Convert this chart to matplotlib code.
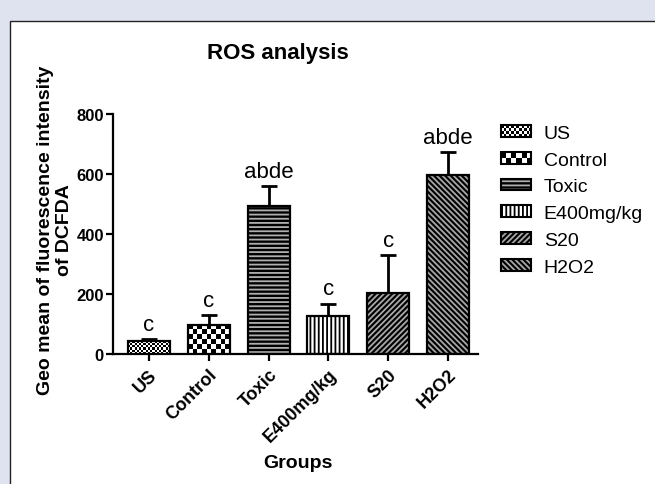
import numpy as np
import matplotlib
import matplotlib.pyplot as plt
from matplotlib.patches import Rectangle
from matplotlib.image import BboxImage
from matplotlib.transforms import Bbox, TransformedBbox
from matplotlib.colors import Normalize
from matplotlib.legend_handler import HandlerBase

plt.rcParams['font.family'] = ['Liberation Sans', 'DejaVu Sans']
plt.rcParams['hatch.linewidth'] = 1.3

groups = ["US", "Control", "Toxic", "E400mg/kg", "S20", "H2O2"]
means = [43, 97, 494, 128, 205, 597]
errs = [7, 34, 66, 40, 126, 77]
letters = ["c", "c", "abde", "c", "c", "abde"]

# fill style per group: (face, hatch, hatch colour, checker square px)
styles = [
    ("white", None, None, 2.2),
    ("white", None, None, 4.6),
    ("black", "----", "#b0b0b0", None),
    ("white", "||||", "black", None),
    ("black", "//////", "#a8a8a8", None),
    ("black", "\\\\\\\\\\\\", "#a8a8a8", None),
]


def checker(rows, cols):
    i, j = np.indices((rows, cols))
    return ((i + j) % 2).astype(float)


class CheckerKey:
    def __init__(self, rows, cols):
        self.rows, self.cols = rows, cols


class HandlerChecker(HandlerBase):
    def create_artists(self, legend, orig_handle, xdescent, ydescent,
                       width, height, fontsize, trans):
        bb = TransformedBbox(Bbox.from_bounds(-xdescent, -ydescent, width, height), trans)
        img = BboxImage(bb, cmap="gray", norm=Normalize(0, 1), interpolation="nearest")
        img.set_data(checker(orig_handle.rows, orig_handle.cols))
        rect = Rectangle((-xdescent, -ydescent), width, height, fill=False,
                         edgecolor="black", linewidth=1.5, transform=trans)
        return [img, rect]


fig = plt.figure(figsize=(6.55, 4.85), dpi=100)
fig.patch.set_facecolor("#dfe3f0")
fig.patches.append(Rectangle((10 / 655, -1), 2, 2 - 22 / 485, transform=fig.transFigure,
                             facecolor="white", edgecolor="#222222", linewidth=1, zorder=-1))

ax = fig.add_axes([113 / 655, 130 / 485, 365 / 655, 240 / 485])
x = np.arange(len(groups))
width = 0.7
ax.set_xlim(-0.6, 5.5)
ax.set_ylim(0, 800)

ax.errorbar(x, means, yerr=[np.zeros(len(errs)), errs], fmt="none", ecolor="black",
            elinewidth=2, capsize=5.5, capthick=2, zorder=1)

handles = []
for xi, m, st in zip(x, means, styles):
    face, hatch, hcol, sq = st
    if sq is None:
        ax.bar(xi, m, width, color=face, edgecolor=hcol, hatch=hatch, linewidth=0, zorder=2)
        ax.bar(xi, m, width, fill=False, edgecolor="black", linewidth=1.6, zorder=4)
        hp = Rectangle((0, 0), 1, 1, facecolor=face, edgecolor=hcol, hatch=hatch, linewidth=0)
        op = Rectangle((0, 0), 1, 1, fill=False, edgecolor="black", linewidth=1.5)
        handles.append((hp, op))
    else:
        ax.bar(xi, m, width, color="white", linewidth=0, zorder=2)
        (x0, y0), (x1, y1) = ax.transData.transform([(xi - width / 2, 0), (xi + width / 2, m)])
        cols = max(1, int(round((x1 - x0) / sq)))
        rows = max(1, int(round((y1 - y0) / sq)))
        bb = TransformedBbox(Bbox.from_extents(xi - width / 2, 0, xi + width / 2, m), ax.transData)
        img = BboxImage(bb, cmap="gray", norm=Normalize(0, 1), interpolation="nearest", zorder=3)
        img.set_data(checker(rows, cols))
        ax.add_artist(img)
        ax.bar(xi, m, width, fill=False, edgecolor="black", linewidth=1.6, zorder=4)
        handles.append(CheckerKey(4 if sq < 3 else 2, 12 if sq < 3 else 6))

for xi, m, e, lab in zip(x, means, errs, letters):
    ax.annotate(lab, (xi, m + e), xytext=(0, 3), textcoords="offset points",
                ha="center", va="bottom", fontsize=16)

for s in ["top", "right"]:
    ax.spines[s].set_visible(False)
for s in ["left", "bottom"]:
    ax.spines[s].set_linewidth(1.6)
ax.tick_params(direction="out", length=5, width=1.6)
ax.tick_params(axis="y", pad=1.5)
ax.set_yticks([0, 200, 400, 600, 800])
ax.set_yticklabels(["0", "200", "400", "600", "800"], fontsize=12, fontweight="bold")
ax.set_xticks(x)
ax.set_xticklabels(groups, rotation=45, ha="right", rotation_mode="anchor",
                   fontsize=13, fontweight="bold")

fig.text(278 / 655, 1 - 54 / 485, "ROS analysis", ha="center", va="center",
         fontsize=16, fontweight="bold")
fig.text(55 / 655, 1 - 230 / 485, "Geo mean of fluorescence intensity\nof DCFDA",
         ha="center", va="center", rotation=90, fontsize=14, fontweight="bold",
         linespacing=1.2)
fig.text(298 / 655, 1 - 463 / 485, "Groups", ha="center", va="center",
         fontsize=14, fontweight="bold")

fig.legend(handles, groups, handler_map={CheckerKey: HandlerChecker()},
           loc="upper left", bbox_to_anchor=(501 / 655, 1 - 126 / 485), frameon=False,
           fontsize=14, handlelength=1.55, handleheight=0.55, handletextpad=0.65,
           labelspacing=0.5, borderpad=0, borderaxespad=0)

fig.savefig("out.png", dpi=100, facecolor=fig.get_facecolor())
